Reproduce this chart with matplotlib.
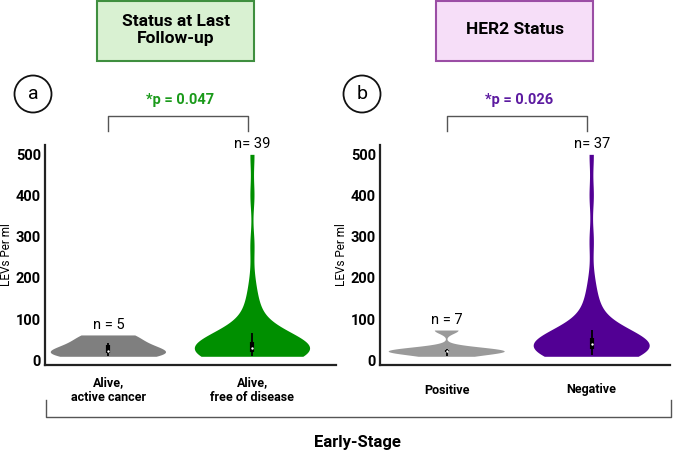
import numpy as np
import matplotlib
matplotlib.use('Agg')
import matplotlib.pyplot as plt
from matplotlib.patches import Rectangle, Ellipse

plt.rcParams['font.family'] = ['Roboto', 'DejaVu Sans']

# LEVs per ml, values estimated from the violins
alive_active = [8, 17, 21, 40, 60]
alive_free = [8, 9, 10, 11, 12, 13, 15, 16, 17, 18,
              20, 21, 22, 23, 24, 25, 26, 27, 28, 30,
              32, 34, 36, 38, 40, 42, 44, 46,
              55, 62, 70, 85, 105, 125, 145, 190, 280, 400, 500]
her2_pos = [8, 18, 20, 21, 23, 28, 72]
her2_neg = [8, 10, 12, 14, 16, 18, 20, 22, 24,
            26, 28, 29, 30, 31, 32, 33, 34, 35,
            37,
            39, 41, 43, 45, 47, 49, 51, 53,
            58, 65, 75, 90, 110, 130, 150, 195, 290, 400, 500]

panels = [
    dict(letter='a', title='Status at Last\nFollow-up',
         cats=['Alive,\nactive cancer', 'Alive,\nfree of disease'],
         data=[alive_active, alive_free], n_labels=['n = 5', 'n= 39'],
         colors=['#7f7f7f', '#008f00'], bws=[None, 0.35],
         p_text='*p = 0.047', p_color='#1a9a1a',
         box_face='#d9f1d2', box_edge='#3f8f3f'),
    dict(letter='b', title='HER2 Status',
         cats=['Positive', 'Negative'],
         data=[her2_pos, her2_neg], n_labels=['n = 7', 'n= 37'],
         colors=['#9a9a9a', '#520094'], bws=[0.4, 0.35],
         p_text='*p = 0.026', p_color='#5c1aa0',
         box_face='#f6def8', box_edge='#9b4ea5'),
]

W, H = 674, 454
fig = plt.figure(figsize=(W / 100, H / 100), dpi=100)


def fx(px):
    return px / W


def fy(py):
    return 1 - py / H


axes_px = [(45, 336, (0.56, 2.58)), (380, 670, (0.54, 2.54))]
title_px = [(97, 254), (436, 593)]
circle_px = [33, 362]

for p, (x0, x1, xlim), (tx0, tx1), cx in zip(panels, axes_px, title_px, circle_px):
    ax = fig.add_axes([fx(x0), fy(365), fx(x1 - x0), (365 - 145) / H])
    for i, vals in enumerate(p['data']):
        pos = i + 1
        vp = ax.violinplot([vals], positions=[pos], widths=0.8, showextrema=False,
                           bw_method=p['bws'][i], points=400)
        for body in vp['bodies']:
            body.set_facecolor(p['colors'][i])
            body.set_edgecolor('none')
            body.set_alpha(1)
        lo, q1, med, q3, hi = np.percentile(vals, [5, 25, 50, 70, 78])
        ax.vlines(pos, lo, hi, color='black', lw=1.3, zorder=3)
        ax.vlines(pos, q1, q3, color='black', lw=3, zorder=3)
        ax.scatter([pos], [med], s=3, color='white', zorder=4, linewidths=0)
        ax.text(pos, max(vals) + 26, p['n_labels'][i], ha='center', va='center',
                fontsize=10.5, clip_on=False)

    ax.set_xlim(*xlim)
    ax.set_ylim(-12, 524)
    ax.set_yticks([0, 100, 200, 300, 400, 500])
    ax.set_xticks([1, 2])
    ax.set_xticklabels(p['cats'], fontsize=9, fontweight='bold', va='center')
    for lab in ax.get_yticklabels():
        lab.set_fontweight('bold')
        lab.set_fontsize(10.5)
    ax.tick_params(axis='y', length=0, pad=3)
    ax.tick_params(axis='x', length=0, pad=18)
    for s in ['top', 'right']:
        ax.spines[s].set_visible(False)
    for s in ['left', 'bottom']:
        ax.spines[s].set_linewidth(1.6)
        ax.spines[s].set_color('#222222')
    ax.set_ylabel('LEVs Per ml', fontsize=8.5, labelpad=2)

    # significance bracket
    ax.plot([1.0, 1.0, 1.97, 1.97], [558, 595, 595, 558], color='#555555',
            lw=1, clip_on=False)
    ax.text(1.5, 634, p['p_text'], ha='center', va='center', fontsize=10.5,
            fontweight='bold', color=p['p_color'], clip_on=False)

    # title box
    fig.patches.append(Rectangle((fx(tx0), fy(61)), fx(tx1 - tx0), 60 / H,
                                 transform=fig.transFigure, facecolor=p['box_face'],
                                 edgecolor=p['box_edge'], lw=1.5))
    fig.text(fx((tx0 + tx1) / 2), fy(30), p['title'], ha='center', va='center',
             fontsize=12.5, fontweight='bold', linespacing=1.1)

    # panel letter
    fig.patches.append(Ellipse((fx(cx), fy(94)), 37 / W, 37 / H,
                               transform=fig.transFigure, facecolor='none',
                               edgecolor='#111111', lw=1.3))
    fig.text(fx(cx), fy(94), p['letter'], ha='center', va='center', fontsize=14)

# bottom group bracket
fig.add_artist(plt.Line2D([fx(46), fx(46), fx(671), fx(671)],
                          [fy(400), fy(417), fy(417), fy(400)],
                          transform=fig.transFigure, color='#555555', lw=1))
fig.text(fx(357), fy(443), 'Early-Stage', ha='center', va='center',
         fontsize=12, fontweight='bold')

fig.savefig('out.png', dpi=100)
